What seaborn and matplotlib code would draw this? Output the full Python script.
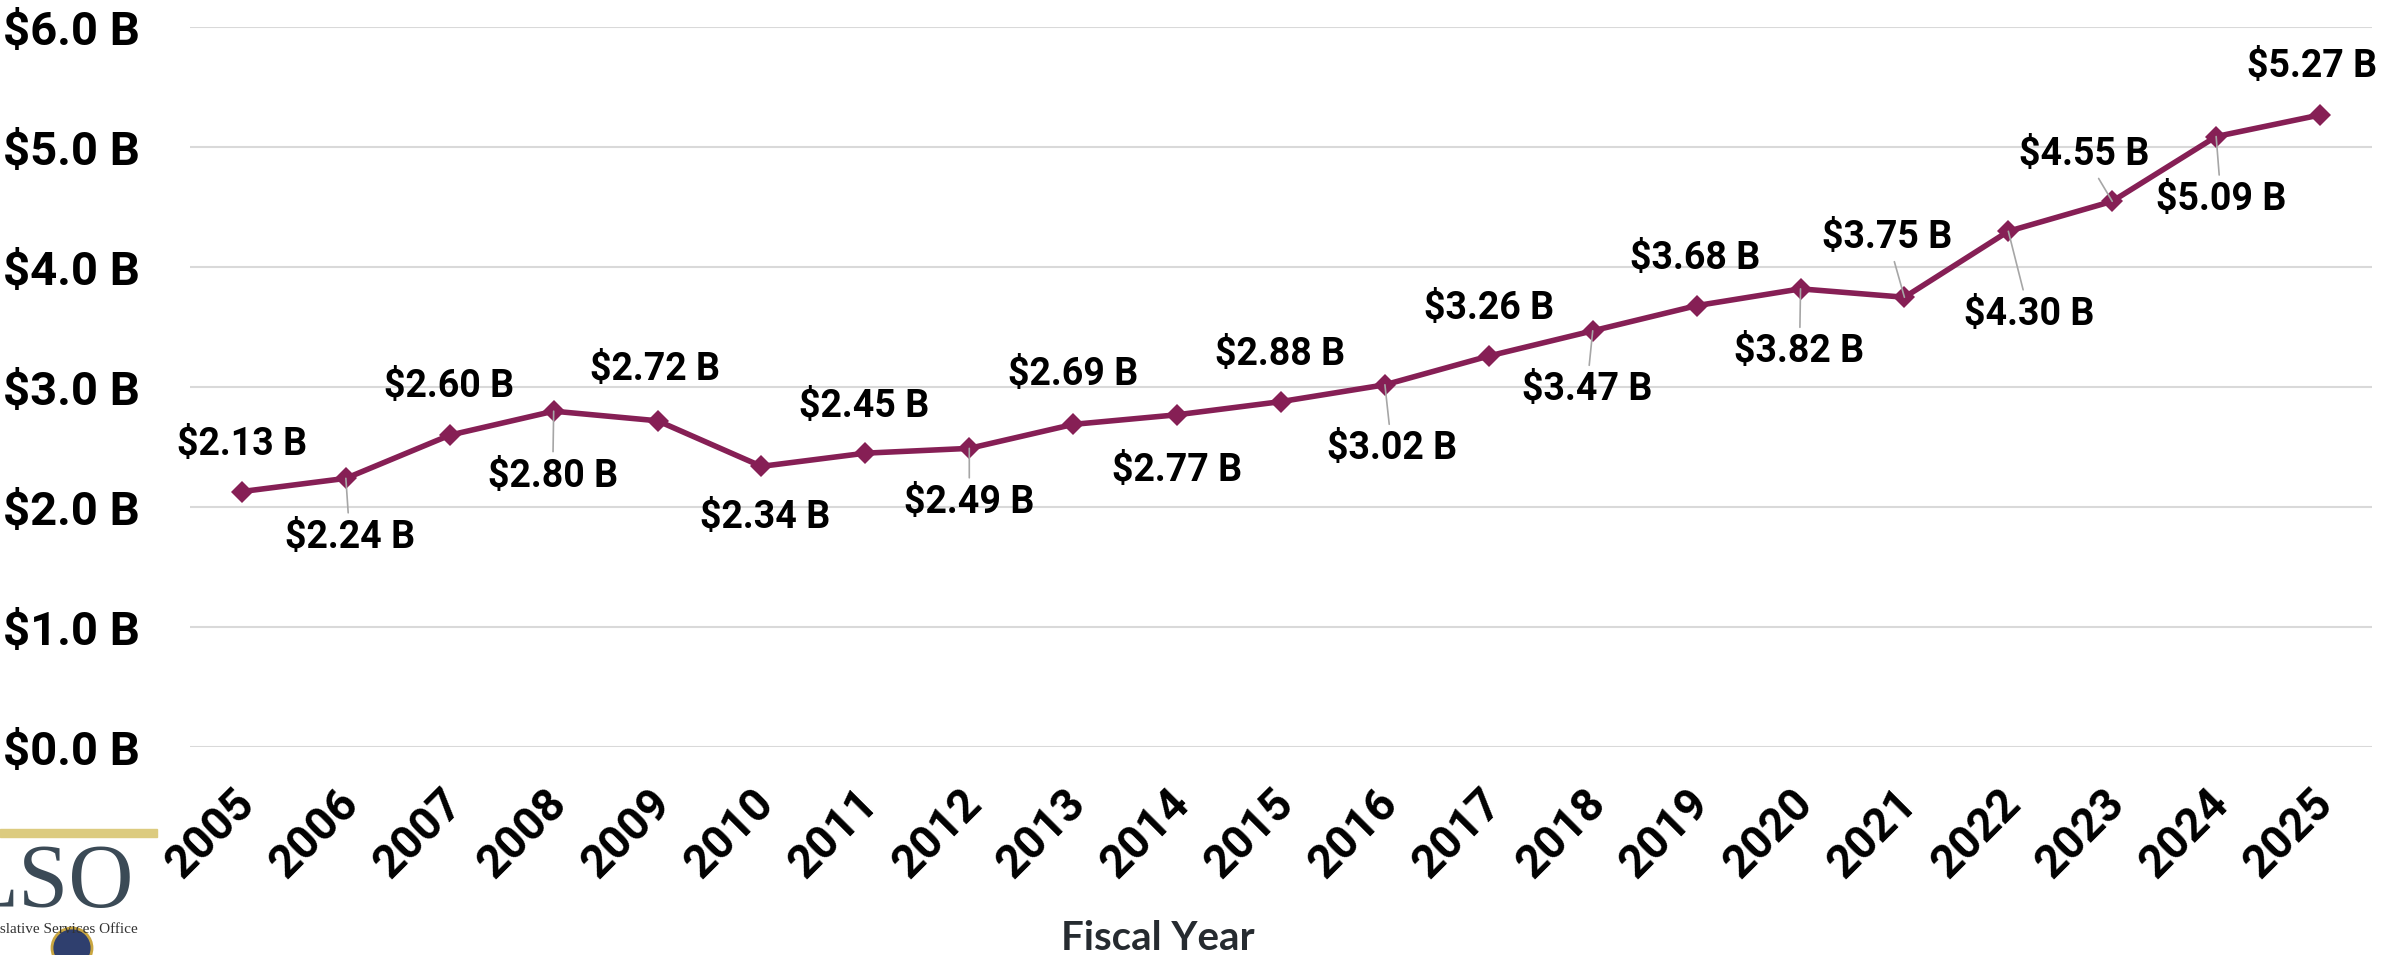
import seaborn as sns
import matplotlib.pyplot as plt
import matplotlib.patches as mpatches
import matplotlib.transforms as mtransforms
import pandas as pd

years = [str(y) for y in range(2005, 2026)]
revenue = [2.13, 2.24, 2.60, 2.80, 2.72, 2.34, 2.45, 2.49, 2.69, 2.77, 2.88,
           3.02, 3.26, 3.47, 3.68, 3.82, 3.75, 4.30, 4.55, 5.09, 5.27]
y_ticks = [0, 1, 2, 3, 4, 5, 6]
y_tick_labels = ['$0.0 B', '$1.0 B', '$2.0 B', '$3.0 B', '$4.0 B', '$5.0 B', '$6.0 B']

# label placement (pixels, y down), leader lines drawn for some
label_dx = [0, 4, -1, -1, -3, 4, -1, 0, 0, 0, -1, 7, 0, -6, -1, -1, -17, 21, -28, 5, -8]
label_dy = [-47, 59, -49, 65, -51, 51, -47, 54, -50, 56, -47, 64, -48, 59, -47, 63, -60, 83, -47, 63, -48]
leaders = [1, 3, 7, 11, 13, 15, 16, 17, 18, 19]

sns.set_style('white')
plt.rcParams['font.family'] = ['Roboto', 'DejaVu Sans']

df = pd.DataFrame({'year': years, 'revenue': revenue})

fig = plt.figure(figsize=(23.89, 9.55), dpi=100)
ax = fig.add_axes([190 / 2389, 1 - 747 / 955, (2372 - 190) / 2389, (747 - 27.4) / 955])

sns.lineplot(data=df, x='year', y='revenue', ax=ax, color='#861F55', lw=4,
             marker='D', markersize=11, markeredgewidth=0, sort=False)

ax.set_xlim(-0.5, len(years) - 0.5)
ax.set_ylim(0, 6)
ax.set_yticks(y_ticks)
ax.set_yticklabels(y_tick_labels, fontsize=34, fontweight='bold', color='black')
ax.yaxis.grid(True, color='#d9d9d9', lw=1.5)
ax.set_axisbelow(True)
for s in ax.spines.values():
    s.set_visible(False)
ax.tick_params(axis='y', length=0, pad=36)
ax.tick_params(axis='x', length=0, pad=2)
ax.set_xlabel('')
ax.set_ylabel('')

ax.set_xticks(range(len(years)))
ax.set_xticklabels(years, rotation=45, ha='right', rotation_mode='anchor',
                   fontsize=33, fontweight='bold', color='black')
offset = mtransforms.ScaledTranslation(-0.1, -0.31, fig.dpi_scale_trans)
for lbl in ax.get_xticklabels():
    lbl.set_transform(lbl.get_transform() + offset)

for i, v in enumerate(revenue):
    props = None
    if i in leaders:
        props = dict(arrowstyle='-', color='#a6a6a6', lw=1.2, shrinkA=2, shrinkB=0)
    ax.annotate(f'${v:.2f} B', xy=(i, v), xytext=(label_dx[i] * 0.72, -label_dy[i] * 0.72),
                textcoords='offset points', ha='center', va='center',
                fontsize=27, fontweight='bold', color='black',
                arrowprops=props, annotation_clip=False)

fig.text(1158 / 2389, 1 - 950 / 955, 'Fiscal Year', ha='center', va='baseline',
         fontsize=29, fontweight='bold', color='#262b30', family=['Lato', 'DejaVu Sans'])

# LSO logo, cut at the left edge
fig.patches.append(mpatches.Rectangle((0, 1 - 837 / 955), 157 / 2389, 8 / 955,
                                      transform=fig.transFigure, color='#dccb7f'))
fig.text(-37 / 2389, 1 - 907 / 955, 'LSO', ha='left', va='baseline', fontsize=65,
         color='#3b4a56', family=['Liberation Serif', 'DejaVu Serif'])
fig.text(138 / 2389, 1 - 933 / 955, 'Legislative Services Office', ha='right', va='baseline',
         fontsize=11, color='#333333', family=['Liberation Serif', 'DejaVu Serif'])
fig.patches.append(mpatches.Ellipse((72 / 2389, 1 - 948 / 955), 40 / 2389, 40 / 955,
                                    transform=fig.transFigure, facecolor='#2f3f6e',
                                    edgecolor='#c9a640', lw=2))

fig.savefig('out.png', dpi=100)
